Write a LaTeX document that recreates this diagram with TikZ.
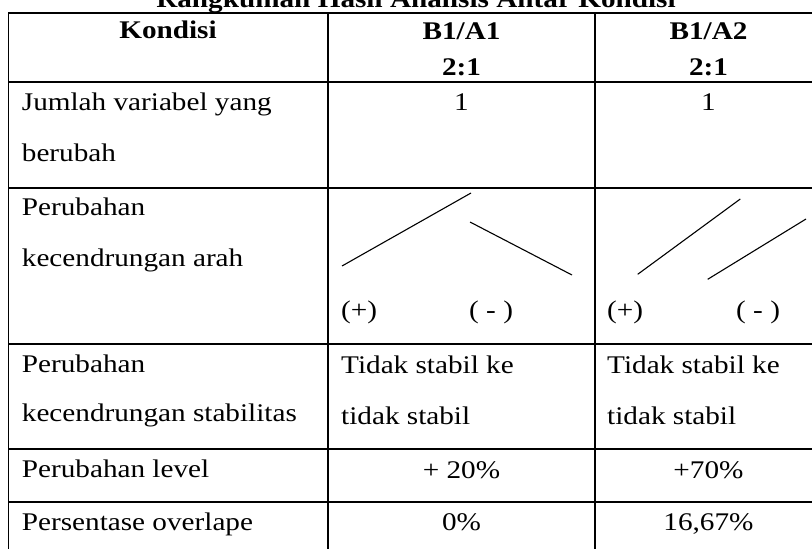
\documentclass[tikz,border=0pt]{standalone}
\usepackage{fontspec}
\setmainfont[FakeStretch=1.15]{Liberation Serif}

\begin{document}
\begin{tikzpicture}[x=1pt,y=-1pt]

      \tikzstyle{txt}=[inner sep=0pt,anchor=base west,
        font=\fontsize{25.4}{30}\selectfont]
      \tikzstyle{mid}=[txt,anchor=base]
      \tikzstyle{head}=[mid,
        font=\fontsize{25.4}{30}\selectfont\bfseries]
      \tikzstyle{grid}=[line width=1.7pt]
      \tikzstyle{trend}=[line width=1.1pt]

      \useasboundingbox (0,0) rectangle (812,549);
      \clip (0,0) rectangle (812,549);

      \node(Judul)[head] at (416,7.5)
        {Rangkuman Hasil Analisis Antar Kondisi};

      \draw [grid] (8.5,13) rectangle (822,556);
      \draw [grid] (8.5,81.7)--(822,81.7);
      \draw [grid] (8.5,187.7)--(822,187.7);
      \draw [grid] (8.5,344)--(822,344);
      \draw [grid] (8.5,449)--(822,449);
      \draw [grid] (8.5,501.7)--(822,501.7);
      \draw [grid] (328,13)--(328,556);
      \draw [grid] (595,13)--(595,556);

      \node(Kondisi)[head] at (168,38){Kondisi};
      \node(HeadA1)[head] at (461.5,39){B1/A1};
      \node(RatioA1)[head] at (461.5,75){2:1};
      \node(HeadA2)[head] at (708.5,39){B1/A2};
      \node(RatioA2)[head] at (708.5,75){2:1};

      \node(Jumlah1)[txt] at (21.7,110){Jumlah variabel yang};
      \node(Jumlah2)[txt] at (21.7,161.7){berubah};
      \node(JumlahA1)[mid] at (461.5,110){1};
      \node(JumlahA2)[mid] at (708.5,110){1};

      \node(Arah1)[txt] at (21.7,215){Perubahan};
      \node(Arah2)[txt] at (21.7,266.7){kecendrungan arah};
      \draw [trend] (342,266)--(471,193);
      \draw [trend] (470,222)--(572,275);
      \draw [trend] (637.7,274.3)--(740.3,199);
      \draw [trend] (707.7,279.3)--(806,219);
      \node(PlusA1)[txt] at (341,318){(+)};
      \node(MinA1)[txt] at (469,318){( - )};
      \node(PlusA2)[txt] at (607,318){(+)};
      \node(MinA2)[txt] at (736,318){( - )};

      \node(Stabil1)[txt] at (21.7,372){Perubahan};
      \node(Stabil2)[txt] at (21.7,421.7){kecendrungan stabilitas};
      \node(StabilA1a)[txt] at (341,373){Tidak stabil ke};
      \node(StabilA1b)[txt] at (341,424){tidak stabil};
      \node(StabilA2a)[txt] at (607,373){Tidak stabil ke};
      \node(StabilA2b)[txt] at (607,424){tidak stabil};

      \node(Level)[txt] at (21.7,477){Perubahan level};
      \node(LevelA1)[mid] at (461.5,478){+ 20\%};
      \node(LevelA2)[mid] at (708.5,478){+70\%};

      \node(Overlap)[txt] at (21.7,530){Persentase overlape};
      \node(OverlapA1)[mid] at (461.5,530){0\%};
      \node(OverlapA2)[mid] at (708.5,530){16,67\%};

    \end{tikzpicture}
\end{document}
